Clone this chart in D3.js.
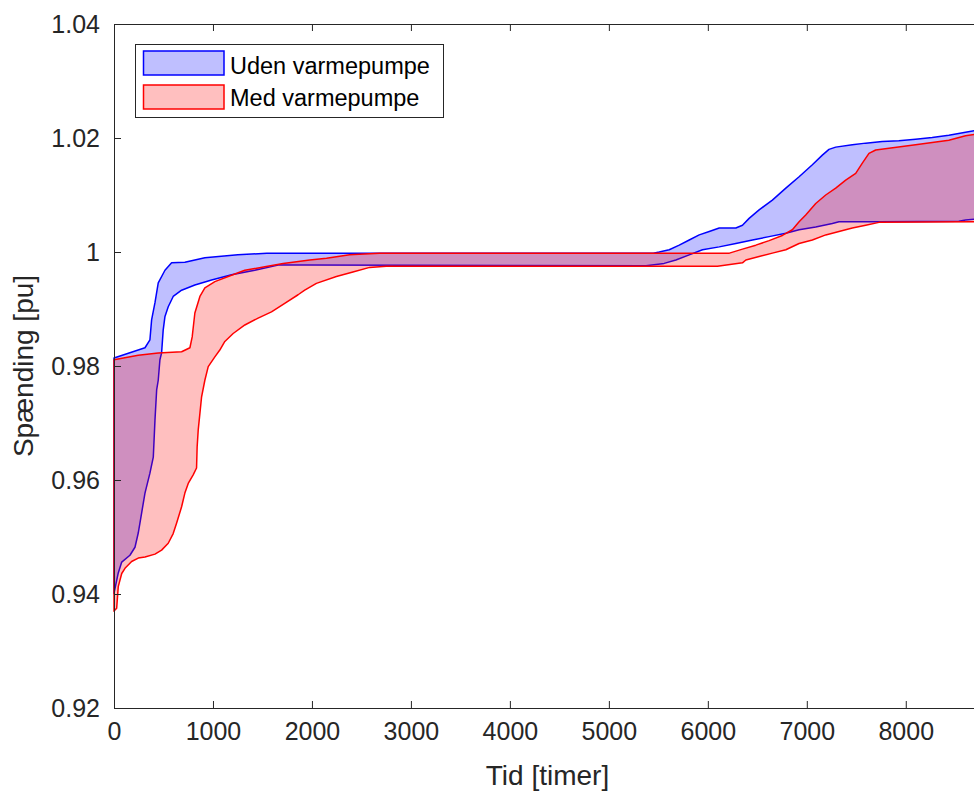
<!DOCTYPE html>
<html>
<head>
<meta charset="utf-8">
<script src="https://cdnjs.cloudflare.com/ajax/libs/d3/7.8.5/d3.min.js"></script>
<style>
    body { margin: 0; background: #fff; }
    svg { display: block; }
    .axis path, .axis line { stroke: #262626; stroke-width: 1; }
    .axis text { fill: #262626; font-family: "Liberation Sans", Arial, Helvetica, sans-serif; font-size: 25px; }
    .axisLabel { fill: #262626; font-family: "Liberation Sans", Arial, Helvetica, sans-serif; font-size: 28px; }
    .legendText { fill: #000; font-family: "Liberation Sans", Arial, Helvetica, sans-serif; font-size: 23.5px; }
</style>
</head>
<body>
<div id="chart"></div>
<script>
    "use strict";

    // [timer, pu] - band for "Uden varmepumpe"
    var udenUpper = [
        [0, 0.9814], [313, 0.9832], [363, 0.9846], [380, 0.9881], [414, 0.9911], [447, 0.9946],
        [515, 0.9968], [582, 0.9981], [716, 0.9982], [918, 0.9990], [1251, 0.9995], [1544, 0.9998],
        [5450, 0.9998], [5509, 1.0000], [5610, 1.0004], [5711, 1.0012], [5812, 1.0021], [5913, 1.0030],
        [6014, 1.0036], [6115, 1.0042], [6283, 1.0042], [6350, 1.0047], [6417, 1.0059], [6518, 1.0074],
        [6652, 1.0091], [6788, 1.0112], [6922, 1.0132], [7056, 1.0153], [7157, 1.0170], [7224, 1.0180],
        [7292, 1.0184], [7460, 1.0188], [7595, 1.0191], [7762, 1.0194], [7930, 1.0195], [8099, 1.0198],
        [8267, 1.0201], [8435, 1.0205], [8604, 1.0210], [8760, 1.0215]
    ];
    var udenLower = [
        [0, 0.9401], [43, 0.9437], [78, 0.9456], [161, 0.9468], [212, 0.9482], [245, 0.9507],
        [279, 0.9542], [313, 0.9577], [363, 0.9612], [397, 0.9640], [414, 0.9705], [431, 0.9758],
        [447, 0.9775], [464, 0.9811], [481, 0.9823], [497, 0.9863], [515, 0.9887], [548, 0.9904],
        [598, 0.9922], [683, 0.9933], [817, 0.9942], [986, 0.9951], [1188, 0.9960], [1423, 0.9968],
        [1658, 0.9977], [1927, 0.9977], [5375, 0.9976], [5559, 0.9980], [5677, 0.9986], [5812, 0.9995],
        [5946, 1.0004], [6115, 1.0009], [6283, 1.0015], [6451, 1.0021], [6619, 1.0027], [6788, 1.0033],
        [6922, 1.0039], [7090, 1.0044], [7258, 1.0050], [7325, 1.0053], [7729, 1.0053], [8536, 1.0054],
        [8604, 1.0056], [8760, 1.0059]
    ];

    // band for "Med varmepumpe"
    var medUpper = [
        [0, 0.9811], [245, 0.9819], [447, 0.9823], [683, 0.9825], [767, 0.9832], [790, 0.9851],
        [817, 0.9893], [868, 0.9922], [918, 0.9937], [1019, 0.9948], [1153, 0.9957], [1322, 0.9968],
        [1524, 0.9974], [1709, 0.9980], [1844, 0.9983], [1978, 0.9986], [2147, 0.9989], [2381, 0.9995],
        [2684, 0.9998], [6218, 0.9998], [6350, 1.0005], [6485, 1.0012], [6619, 1.0020], [6753, 1.0029],
        [6854, 1.0039], [6922, 1.0053], [6989, 1.0065], [7090, 1.0085], [7191, 1.0100], [7292, 1.0112],
        [7393, 1.0126], [7494, 1.0138], [7561, 1.0156], [7628, 1.0173], [7696, 1.0179], [7830, 1.0182],
        [8099, 1.0188], [8267, 1.0192], [8435, 1.0196], [8604, 1.0204], [8760, 1.0208]
    ];
    var medLower = [
        [0, 0.9370], [27, 0.9375], [43, 0.9413], [78, 0.9436], [111, 0.9445], [178, 0.9457],
        [245, 0.9463], [313, 0.9465], [414, 0.9470], [481, 0.9477], [548, 0.9489], [598, 0.9506],
        [632, 0.9524], [683, 0.9553], [716, 0.9577], [750, 0.9594], [800, 0.9609], [834, 0.9621],
        [840, 0.9658], [851, 0.9688], [868, 0.9717], [885, 0.9746], [918, 0.9775], [952, 0.9799],
        [1019, 0.9816], [1069, 0.9828], [1120, 0.9843], [1204, 0.9857], [1322, 0.9872], [1456, 0.9884],
        [1591, 0.9895], [1725, 0.9910], [1860, 0.9925], [1927, 0.9933], [2045, 0.9945], [2247, 0.9957],
        [2414, 0.9965], [2583, 0.9973], [2751, 0.9975], [6097, 0.9975], [6350, 0.9981], [6384, 0.9986],
        [6518, 0.9992], [6652, 0.9998], [6788, 1.0004], [6922, 1.0015], [7056, 1.0021], [7191, 1.0030],
        [7325, 1.0036], [7460, 1.0042], [7595, 1.0047], [7729, 1.0052], [8760, 1.0053]
    ];

    var xTicks = [0, 1000, 2000, 3000, 4000, 5000, 6000, 7000, 8000];
    var yTicks = [0.92, 0.94, 0.96, 0.98, 1, 1.02, 1.04];
    var yTickLabels = ["0.92", "0.94", "0.96", "0.98", "1", "1.02", "1.04"];
    var seriesNames = ["Uden varmepumpe", "Med varmepumpe"];

    var width = 974;
    var height = 794;
    var plotLeft = 114;
    var plotRight = 981;
    var plotTop = 24;
    var plotBottom = 708;
    var tickLen = 7;

    var x = d3.scaleLinear()
        .domain([0, 8760])
        .range([plotLeft, plotRight]);

    var y = d3.scaleLinear()
        .domain([0.92, 1.04])
        .range([plotBottom, plotTop]);

    var svg = d3.select("#chart").append("svg")
        .attr("width", width)
        .attr("height", height);

    svg.append("rect")
        .attr("width", width)
        .attr("height", height)
        .attr("fill", "#fff");

    var line = d3.line()
        .x(function (d) { return x(d[0]); })
        .y(function (d) { return y(d[1]); });

    // closed patch: upper curve out, lower curve back
    function bandPath(upper, lower) {
        return line(upper.concat(lower.slice().reverse())) + "Z";
    }

    var bands = [
        { upper: udenUpper, lower: udenLower, fill: "rgba(0,0,255,0.25)", stroke: "#0000ff" },
        { upper: medUpper, lower: medLower, fill: "rgba(255,0,0,0.25)", stroke: "#ff0000" }
    ];

    var plot = svg.append("g").attr("class", "plot");

    bands.forEach(function (b) {
        plot.append("path")
            .attr("d", bandPath(b.upper, b.lower))
            .attr("fill", b.fill)
            .attr("stroke", b.stroke)
            .attr("stroke-width", 1.5)
            .attr("stroke-linejoin", "round");
    });

    // axes, MATLAB style box with inward ticks
    svg.append("g")
        .attr("class", "axis")
        .attr("transform", "translate(0," + plotBottom + ")")
        .call(d3.axisBottom(x).tickValues(xTicks).tickSizeInner(-tickLen).tickSizeOuter(0).tickPadding(14)
            .tickFormat(function (d) { return d; }));

    svg.append("g")
        .attr("class", "axis")
        .attr("transform", "translate(0," + plotTop + ")")
        .call(d3.axisTop(x).tickValues(xTicks).tickSizeInner(-tickLen).tickSizeOuter(0).tickFormat(""));

    svg.append("g")
        .attr("class", "axis")
        .attr("transform", "translate(" + plotLeft + ",0)")
        .call(d3.axisLeft(y).tickValues(yTicks).tickSizeInner(-tickLen).tickSizeOuter(0).tickPadding(14)
            .tickFormat(function (d, i) { return yTickLabels[i]; }));

    svg.append("g")
        .attr("class", "axis")
        .attr("transform", "translate(" + plotRight + ",0)")
        .call(d3.axisRight(y).tickValues(yTicks).tickSizeInner(-tickLen).tickSizeOuter(0).tickFormat(""));

    svg.selectAll(".axis .domain").attr("stroke", "#262626");

    svg.append("text")
        .attr("class", "axisLabel")
        .attr("text-anchor", "middle")
        .attr("x", (plotLeft + plotRight) / 2)
        .attr("y", 785)
        .text("Tid [timer]");

    svg.append("text")
        .attr("class", "axisLabel")
        .attr("text-anchor", "middle")
        .attr("transform", "translate(33," + ((plotTop + plotBottom) / 2) + ") rotate(-90)")
        .text("Spænding [pu]");

    // legend
    var legend = svg.append("g").attr("class", "legend");
    legend.append("rect")
        .attr("x", 135.5)
        .attr("y", 44.5)
        .attr("width", 308)
        .attr("height", 73)
        .attr("fill", "#fff")
        .attr("stroke", "#262626")
        .attr("stroke-width", 1);

    legend.selectAll(".legendPatch")
        .data(bands)
        .enter()
        .append("rect")
        .attr("class", "legendPatch")
        .attr("x", 143.5)
        .attr("y", function (d, i) { return 51 + i * 34; })
        .attr("width", 80.5)
        .attr("height", 24)
        .attr("fill", function (d) { return d.fill; })
        .attr("stroke", function (d) { return d.stroke; })
        .attr("stroke-width", 1.5);

    legend.selectAll(".legendText")
        .data(seriesNames)
        .enter()
        .append("text")
        .attr("class", "legendText")
        .attr("x", 230)
        .attr("y", function (d, i) { return 74 + i * 32; })
        .text(function (d) { return d; });
</script>
</body>
</html>
